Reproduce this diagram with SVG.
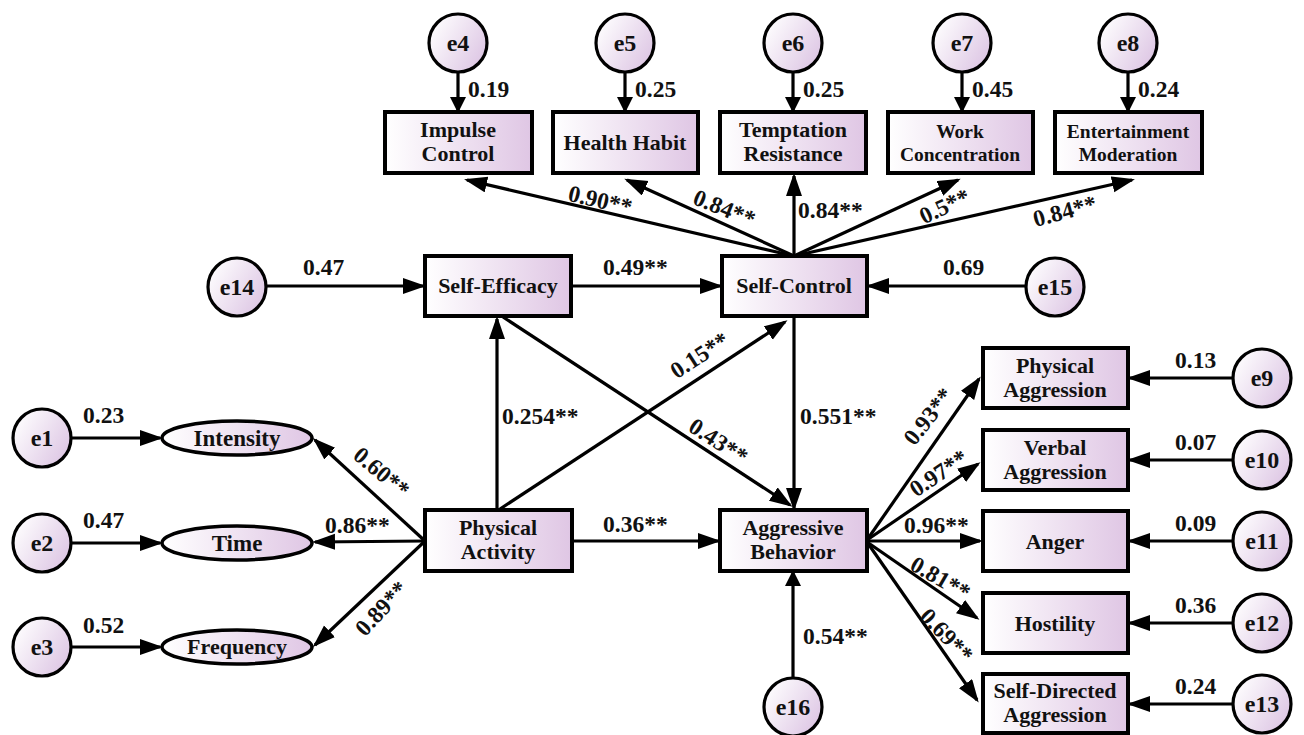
<svg xmlns="http://www.w3.org/2000/svg" width="1304" height="735" viewBox="0 0 1304 735">
<defs>
<linearGradient id="gb" x1="0" y1="0" x2="1" y2="0">
<stop offset="0" stop-color="#ffffff"/>
<stop offset="1" stop-color="#dfc6e4"/>
</linearGradient>
<linearGradient id="gc" x1="0" y1="0.2" x2="1" y2="0.8">
<stop offset="0" stop-color="#ffffff"/>
<stop offset="1" stop-color="#dcc4e3"/>
</linearGradient>
<marker id="ah" markerUnits="userSpaceOnUse" markerWidth="24" markerHeight="18" refX="20" refY="8" orient="auto">
<path d="M0,0 L23,8 L0,16 z" fill="#000"/>
</marker>
<marker id="ahs" markerUnits="userSpaceOnUse" markerWidth="18" markerHeight="18" refX="13" refY="8" orient="auto">
<path d="M0,0 L16,8 L0,16 z" fill="#000"/>
</marker>
</defs>
<style>
.box{fill:url(#gb);stroke:#000;stroke-width:4}
.cir{fill:url(#gc);stroke:#000;stroke-width:3.2}
text{font-family:'Liberation Serif','Times New Roman',serif;font-weight:bold;fill:#111}
.t{font-size:22px;text-anchor:middle}
.el{font-size:23px}
.e{font-size:24px;text-anchor:middle}
.ts{font-size:19.5px}
.n{font-size:23.5px}
.c{text-anchor:middle}
.ln{stroke:#000;stroke-width:3.2;fill:none;marker-end:url(#ah)}
.sh{marker-end:url(#ahs)}
</style>
<rect width="1304" height="735" fill="#fff"/>

<g id="connectors">
<line class="ln sh" x1="458" y1="72" x2="458" y2="110"/>
<line class="ln sh" x1="625" y1="72" x2="625" y2="110"/>
<line class="ln sh" x1="793" y1="72" x2="793" y2="110"/>
<line class="ln sh" x1="962" y1="72" x2="962" y2="110"/>
<line class="ln sh" x1="1128" y1="72" x2="1128" y2="110"/>
<line class="ln" x1="794" y1="256" x2="467" y2="180"/>
<line class="ln" x1="794" y1="256" x2="627" y2="180"/>
<line class="ln" x1="794" y1="256" x2="794" y2="176"/>
<line class="ln" x1="794" y1="256" x2="958" y2="180"/>
<line class="ln" x1="794" y1="256" x2="1132" y2="180"/>
<line class="ln" x1="266" y1="286" x2="423" y2="286"/>
<line class="ln" x1="571" y1="286" x2="720" y2="286"/>
<line class="ln" x1="1026" y1="286" x2="869" y2="286"/>
<line class="ln" x1="794" y1="316" x2="794" y2="508"/>
<line class="ln" x1="497" y1="510" x2="497" y2="319"/>
<line class="ln" x1="500" y1="509" x2="785" y2="322"/>
<line class="ln" x1="503" y1="317" x2="790" y2="505"/>
<line class="ln" x1="572" y1="541" x2="718" y2="541"/>
<line class="ln sh" x1="793" y1="678" x2="793" y2="573"/>
<line class="ln" x1="71" y1="438" x2="160" y2="438"/>
<line class="ln" x1="71" y1="543" x2="160" y2="543"/>
<line class="ln" x1="71" y1="647" x2="160" y2="647"/>
<line class="ln" x1="425" y1="541" x2="315" y2="440"/>
<line class="ln" x1="425" y1="541" x2="315" y2="542"/>
<line class="ln" x1="425" y1="541" x2="315" y2="645"/>
<line class="ln" x1="867" y1="540" x2="979" y2="379"/>
<line class="ln" x1="867" y1="540" x2="978" y2="464"/>
<line class="ln" x1="867" y1="541" x2="980" y2="541"/>
<line class="ln" x1="867" y1="542" x2="977" y2="618"/>
<line class="ln" x1="867" y1="542" x2="977" y2="700"/>
<line class="ln" x1="1233" y1="378" x2="1130" y2="378"/>
<line class="ln" x1="1233" y1="460" x2="1130" y2="460"/>
<line class="ln" x1="1233" y1="541" x2="1130" y2="541"/>
<line class="ln" x1="1233" y1="623" x2="1130" y2="623"/>
<line class="ln" x1="1233" y1="704" x2="1130" y2="704"/>
</g>

<g id="labels">
<text class="n" x="468" y="97">0.19</text>
<text class="n" x="635" y="97">0.25</text>
<text class="n" x="803" y="97">0.25</text>
<text class="n" x="972" y="97">0.45</text>
<text class="n" x="1138" y="97">0.24</text>
<text class="n c" transform="translate(600,201) rotate(13)" y="7">0.90**</text>
<text class="n c" transform="translate(724,209) rotate(22)" y="7">0.84**</text>
<text class="n" x="798" y="218">0.84**</text>
<text class="n c" transform="translate(945,207) rotate(-25)" y="7">0.5**</text>
<text class="n c" transform="translate(1065,212) rotate(-15)" y="7">0.84**</text>
<text class="n" x="303" y="275">0.47</text>
<text class="n" x="603" y="275">0.49**</text>
<text class="n" x="943" y="275">0.69</text>
<text class="n" x="800" y="424">0.551**</text>
<text class="n" x="502" y="424">0.254**</text>
<text class="n c" transform="translate(700,356) rotate(-33)" y="7">0.15**</text>
<text class="n c" transform="translate(718,442) rotate(33)" y="7">0.43**</text>
<text class="n" x="603" y="532">0.36**</text>
<text class="n" x="803" y="644">0.54**</text>
<text class="n" x="83" y="423">0.23</text>
<text class="n" x="83" y="528">0.47</text>
<text class="n" x="83" y="633">0.52</text>
<text class="n c" transform="translate(381,473) rotate(40)" y="7">0.60**</text>
<text class="n" x="325" y="533">0.86**</text>
<text class="n c" transform="translate(382,609) rotate(-47)" y="7">0.89**</text>
<text class="n c" transform="translate(929,417) rotate(-52)" y="7">0.93**</text>
<text class="n c" transform="translate(939,474) rotate(-34)" y="7">0.97**</text>
<text class="n" x="904" y="533">0.96**</text>
<text class="n c" transform="translate(940,579) rotate(30)" y="7">0.81**</text>
<text class="n c" transform="translate(946,636) rotate(46)" y="7">0.69**</text>
<text class="n" x="1175" y="368">0.13</text>
<text class="n" x="1175" y="450">0.07</text>
<text class="n" x="1175" y="531">0.09</text>
<text class="n" x="1175" y="613">0.36</text>
<text class="n" x="1175" y="694">0.24</text>
</g>

<g id="e4"><circle class="cir" cx="458" cy="43" r="29"/><text class="e" x="458" y="51">e4</text></g>
<g id="e5"><circle class="cir" cx="625" cy="43" r="29"/><text class="e" x="625" y="51">e5</text></g>
<g id="e6"><circle class="cir" cx="793" cy="43" r="29"/><text class="e" x="793" y="51">e6</text></g>
<g id="e7"><circle class="cir" cx="962" cy="43" r="29"/><text class="e" x="962" y="51">e7</text></g>
<g id="e8"><circle class="cir" cx="1128" cy="43" r="29"/><text class="e" x="1128" y="51">e8</text></g>

<g id="impulse-control"><rect class="box" x="385" y="112" width="147" height="61"/><text class="t" x="458" y="137">Impulse</text><text class="t" x="458" y="161">Control</text></g>
<g id="health-habit"><rect class="box" x="553" y="112" width="145" height="61"/><text class="t" x="625" y="150">Health Habit</text></g>
<g id="temptation-resistance"><rect class="box" x="720" y="112" width="146" height="61"/><text class="t" x="793" y="137">Temptation</text><text class="t" x="793" y="161">Resistance</text></g>
<g id="work-concentration"><rect class="box" x="888" y="112" width="145" height="61"/><text class="t ts" x="960" y="138">Work</text><text class="t ts" x="960" y="161">Concentration</text></g>
<g id="entertainment-moderation"><rect class="box" x="1055" y="112" width="147" height="61"/><text class="t ts" x="1128" y="138">Entertainment</text><text class="t ts" x="1128" y="161">Moderation</text></g>

<g id="e14"><circle class="cir" cx="237" cy="287" r="29"/><text class="e" x="237" y="295">e14</text></g>
<g id="self-efficacy"><rect class="box" x="425" y="256" width="146" height="60"/><text class="t" x="498" y="293">Self-Efficacy</text></g>
<g id="self-control"><rect class="box" x="722" y="256" width="145" height="60"/><text class="t" x="794" y="293">Self-Control</text></g>
<g id="e15"><circle class="cir" cx="1055" cy="287" r="29"/><text class="e" x="1055" y="295">e15</text></g>

<g id="e1"><circle class="cir" cx="42" cy="438" r="29"/><text class="e" x="42" y="446">e1</text></g>
<g id="e2"><circle class="cir" cx="42" cy="543" r="29"/><text class="e" x="42" y="551">e2</text></g>
<g id="e3"><circle class="cir" cx="42" cy="647" r="29"/><text class="e" x="42" y="655">e3</text></g>
<g id="intensity"><ellipse class="box" cx="237" cy="438" rx="75" ry="17" style="stroke-width:3.5"/><text class="t el" x="237" y="446">Intensity</text></g>
<g id="time"><ellipse class="box" cx="237" cy="543" rx="75" ry="17" style="stroke-width:3.5"/><text class="t el" x="237" y="551">Time</text></g>
<g id="frequency"><ellipse class="box" cx="237" cy="647" rx="75" ry="17" style="stroke-width:3.5"/><text class="t" x="237" y="654">Frequency</text></g>

<g id="physical-activity"><rect class="box" x="425" y="510" width="147" height="61"/><text class="t" x="498" y="535">Physical</text><text class="t" x="498" y="559">Activity</text></g>
<g id="aggressive-behavior"><rect class="box" x="720" y="510" width="147" height="61"/><text class="t" x="793" y="535">Aggressive</text><text class="t" x="793" y="559">Behavior</text></g>
<g id="e16"><circle class="cir" cx="793" cy="707" r="29"/><text class="e" x="793" y="715">e16</text></g>

<g id="physical-aggression"><rect class="box" x="983" y="348" width="145" height="60"/><text class="t" x="1055" y="373">Physical</text><text class="t" x="1055" y="397">Aggression</text></g>
<g id="verbal-aggression"><rect class="box" x="983" y="430" width="145" height="60"/><text class="t" x="1055" y="455">Verbal</text><text class="t" x="1055" y="479">Aggression</text></g>
<g id="anger"><rect class="box" x="983" y="511" width="145" height="60"/><text class="t" x="1055" y="549">Anger</text></g>
<g id="hostility"><rect class="box" x="983" y="593" width="145" height="60"/><text class="t" x="1055" y="631">Hostility</text></g>
<g id="self-directed-aggression"><rect class="box" x="983" y="674" width="145" height="59"/><text class="t" x="1055" y="698">Self-Directed</text><text class="t" x="1055" y="722">Aggression</text></g>

<g id="e9"><circle class="cir" cx="1262" cy="378" r="29"/><text class="e" x="1262" y="386">e9</text></g>
<g id="e10"><circle class="cir" cx="1262" cy="460" r="29"/><text class="e" x="1262" y="468">e10</text></g>
<g id="e11"><circle class="cir" cx="1262" cy="541" r="29"/><text class="e" x="1262" y="549">e11</text></g>
<g id="e12"><circle class="cir" cx="1262" cy="623" r="29"/><text class="e" x="1262" y="631">e12</text></g>
<g id="e13"><circle class="cir" cx="1262" cy="704" r="29"/><text class="e" x="1262" y="712">e13</text></g>
</svg>
